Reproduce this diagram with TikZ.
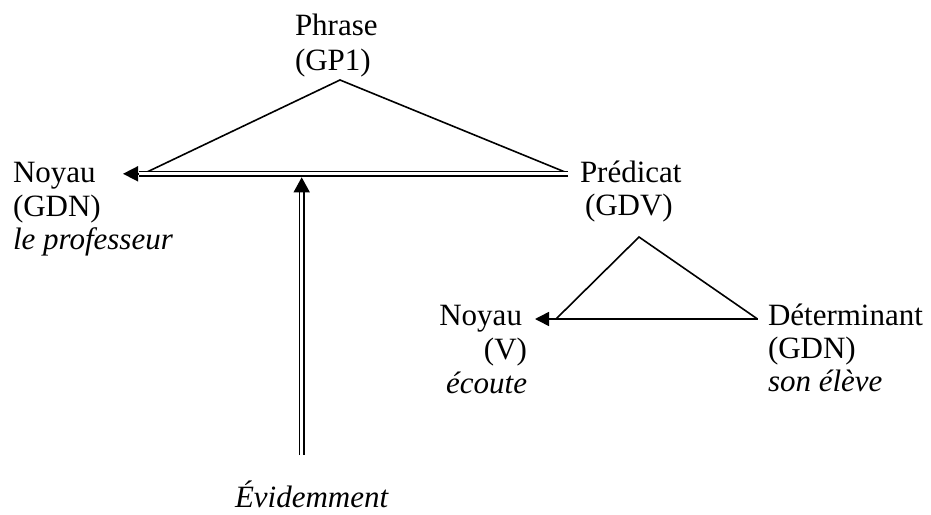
\documentclass[tikz,border=0pt]{standalone}
\usepackage{fontspec}
\setmainfont{Liberation Serif}
\usetikzlibrary{arrows.meta}
\newcommand\dtxt{\fontsize{31}{34}\selectfont}
\begin{document}
\begin{tikzpicture}[x=1pt,y=-1pt,
  lbl/.style={inner sep=0pt, outer sep=0pt, font=\dtxt},
  rail/.style={line width=1.6pt, line join=miter},
  dbl/.style={double=white, double distance=3pt, line width=1.7pt},
  headarrow/.style={line width=1.6pt, -{Triangle[length=15pt,width=15pt]}}]
\useasboundingbox (0,0) rectangle (931,514);
% texts
\node[lbl, anchor=base west] (phrase) at (295,35) {Phrase};
\node[lbl, anchor=base west] (gp1) at (295,70) {(GP1)};
\node[lbl, anchor=base west] (noyau1) at (13,182) {Noyau};
\node[lbl, anchor=base west] (gdn1) at (13,216) {(GDN)};
\node[lbl, anchor=base west] (prof) at (13,249) {\itshape le professeur};
\node[lbl, anchor=base west] (pred) at (580,182) {Prédicat};
\node[lbl, anchor=base west] (gdv) at (585,215) {(GDV)};
\node[lbl, anchor=base east] (noyau2) at (522,325) {Noyau};
\node[lbl, anchor=base east] (v) at (527,359) {(V)};
\node[lbl, anchor=base east] (ecoute) at (527,393) {\itshape écoute};
\node[lbl, anchor=base west] (det) at (768,325) {Déterminant};
\node[lbl, anchor=base west] (gdn2) at (768,358) {(GDN)};
\node[lbl, anchor=base west] (eleve) at (768,391) {\itshape son élève};
\node[lbl, anchor=base west] (evid) at (235,507) {\itshape Évidemment};
% points
\coordinate (apex) at (340,80);
\coordinate (tl) at (147,172);
\coordinate (tr) at (565,172);
\coordinate (hr) at (568,173.8);
\coordinate (hl) at (139,173.8);
\coordinate (hlt) at (123,173.8);
\coordinate (vb) at (301.7,455);
\coordinate (vt) at (301.7,191);
\coordinate (vtt) at (301.7,177.3);
\coordinate (apex2) at (639,237);
\coordinate (bl) at (556,319);
\coordinate (br) at (757.5,319);
\coordinate (blt) at (535,319);
% upper triangle
\draw[rail] (tl) -- (apex) -- (tr);
\draw[dbl] (hr) -- (hl);
\draw[headarrow] (hl) -- (hlt);
% vertical double arrow
\draw[dbl] (vb) -- (vt);
\draw[headarrow, -{Triangle[length=15pt,width=16pt]}] (vt) -- (vtt);
% lower triangle
\draw[rail] (bl) -- (apex2) -- (br);
\draw[headarrow, -{Triangle[length=14pt,width=14pt]}] (br) -- (blt);
\end{tikzpicture}
\end{document}
